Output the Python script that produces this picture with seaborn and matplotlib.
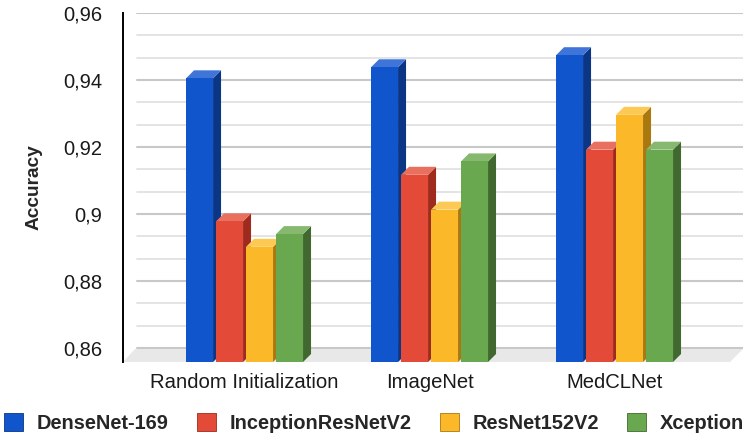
import pandas as pd
import matplotlib.pyplot as plt
import seaborn as sns
import numpy as np
from matplotlib.patches import Polygon, Patch

# Chart data
inits = ['Random Initialization', 'ImageNet', 'MedCLNet']
models = ['DenseNet-169', 'InceptionResNetV2', 'ResNet152V2', 'Xception']
densenet = [0.9405, 0.9438, 0.9474]
inception = [0.8978, 0.9117, 0.9192]
resnet = [0.8902, 0.9013, 0.9296]
xception = [0.8940, 0.9157, 0.9192]

front = ['#1155cc', '#e34b38', '#fbb829', '#6aa84f']
side = ['#0b3585', '#9e2b1e', '#a9780f', '#41692f']
top = ['#3f74d8', '#e9705f', '#fcc955', '#86b96f']

rows = []
for m, vals in zip(models, [densenet, inception, resnet, xception]):
    for i, v in zip(inits, vals):
        rows.append({'Init': i, 'Model': m, 'Accuracy': v})
df = pd.DataFrame(rows)

sns.set_style("white")
plt.rcParams['font.family'] = ['Liberation Sans', 'DejaVu Sans']

fig = plt.figure(figsize=(7.48, 4.38), dpi=100)
ax = fig.add_axes([123 / 748, 1 - 362 / 438, 620 / 748, 349 / 438])

ppx = 185.0      # pixels per category unit
ppy = 3350.0     # pixels per accuracy unit
xl, xr = -0.657, -0.657 + 620 / ppx
yb, yt = 0.86 - 14 / ppy, 0.96

sns.barplot(data=df, x='Init', y='Accuracy', hue='Model', hue_order=models,
            palette=front, saturation=1, width=0.6486, gap=0.1,
            linewidth=0, legend=False, ax=ax)

ax.set_xlim(xl, xr)
ax.set_ylim(yb, yt)

# back wall gridlines
major = np.arange(0.86, 0.9601, 0.02)
minor = [a + k * 0.02 / 3 for a in major[:-1] for k in (1, 2)]
for y in minor:
    ax.axhline(y, xmin=14 / 620, xmax=1, color='#e2e2e2', lw=1.3, zorder=0.5)
for y in major:
    ax.axhline(y, xmin=14 / 620, xmax=1, color='#c8c8c8', lw=1.5, zorder=0.6)

# floor
floor = Polygon([(xl, yb), (xl + 12 / ppx, 0.86 - 1 / ppy), (xr, 0.86 - 1 / ppy),
                 (xr - 13 / ppx, yb)], closed=True, facecolor='#e8e8e8',
                edgecolor='none', zorder=1, clip_on=False)
ax.add_patch(floor)

# 3D sides and tops
dx, dy = 8 / ppx, 8 / ppy
for k, cont in enumerate(ax.containers):
    for bar in cont:
        x0 = bar.get_x()
        w = bar.get_width()
        h = bar.get_height()
        bar.set_zorder(3 + k)
        s = Polygon([(x0 + w, yb), (x0 + w + dx, yb + dy), (x0 + w + dx, h + dy), (x0 + w, h)],
                    closed=True, facecolor=side[k], edgecolor='none', zorder=3 + k - 0.01)
        t = Polygon([(x0, h), (x0 + dx, h + dy), (x0 + w + dx, h + dy), (x0 + w, h)],
                    closed=True, facecolor=top[k], edgecolor='none', zorder=3 + k - 0.01)
        ax.add_patch(s)
        ax.add_patch(t)

# axes styling
for sp in ['top', 'right', 'bottom']:
    ax.spines[sp].set_visible(False)
ax.spines['left'].set_color('black')
ax.spines['left'].set_linewidth(1.4)
ax.spines['left'].set_zorder(10)
ax.set_yticks(major)
ax.set_yticklabels([f'{v:.2f}'.rstrip('0').replace('.', ',') for v in major])
ax.tick_params(axis='y', direction='inout', length=20, width=1.4, color='black',
               labelsize=14.5, pad=5)
ax.tick_params(axis='x', length=0, labelsize=14.6, pad=8)
for lab in ax.get_xticklabels() + ax.get_yticklabels():
    lab.set_color('#1a1a1a')
ax.set_xlabel('')
ax.set_ylabel('Accuracy', fontsize=13.8, fontweight='bold', labelpad=15)

handles = [Patch(facecolor=front[k], edgecolor=side[k], linewidth=0.6, label=models[k])
           for k in range(4)]
fig.legend(handles=handles, loc='center', bbox_to_anchor=(0.5, 15 / 438), ncol=4,
           frameon=False, handlelength=0.95, handleheight=0.95, handletextpad=0.7,
           columnspacing=1.4, borderaxespad=0, borderpad=0,
           prop={'weight': 'bold', 'size': 14.4})

fig.savefig('out.png', dpi=100)
